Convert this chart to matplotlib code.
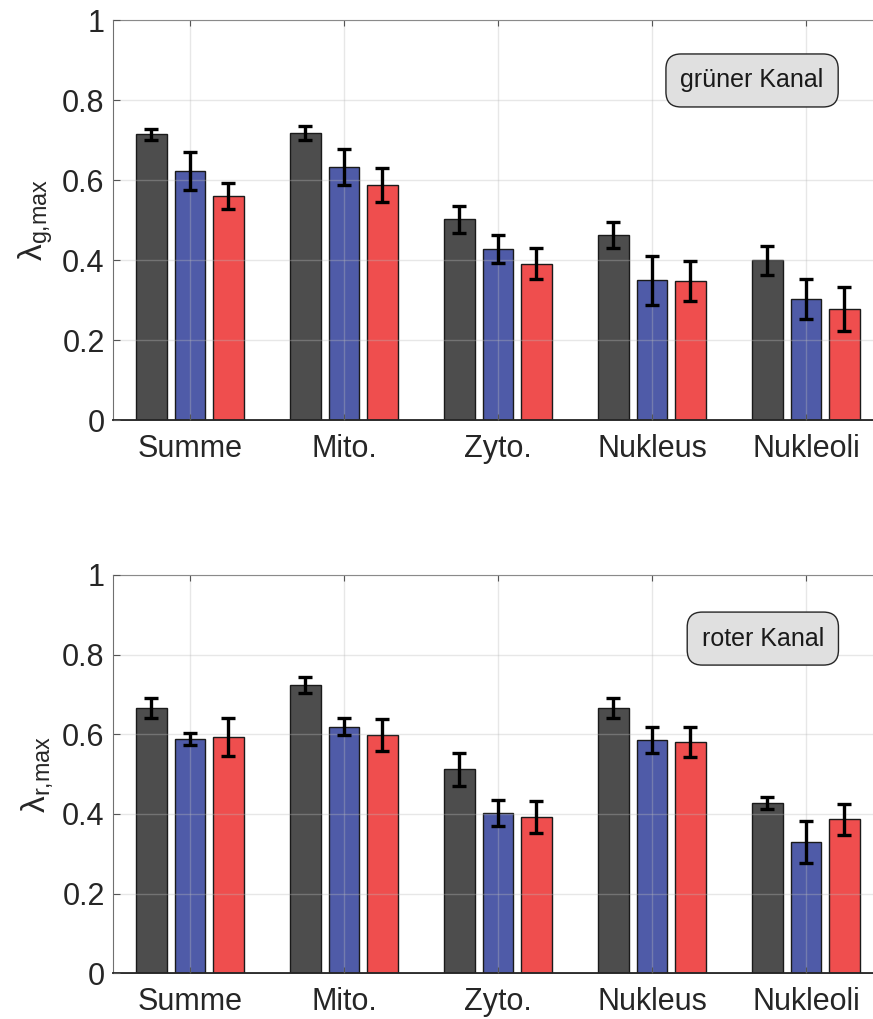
import numpy as np
import matplotlib
matplotlib.use("Agg")
import matplotlib.pyplot as plt

plt.rcParams["font.family"] = ["Liberation Sans", "DejaVu Sans"]
plt.rcParams["mathtext.fontset"] = "custom"
plt.rcParams["mathtext.rm"] = "Liberation Sans"
plt.rcParams["mathtext.it"] = "Liberation Sans:italic"

kategorien = ["Summe", "Mito.", "Zyto.", "Nukleus", "Nukleoli"]

# gruener Kanal: Mittelwerte und Standardabweichungen je Messreihe
gruen_a = [0.714, 0.717, 0.502, 0.463, 0.399]
gruen_b = [0.623, 0.633, 0.427, 0.349, 0.302]
gruen_c = [0.560, 0.588, 0.391, 0.347, 0.277]
gruen_a_err = [0.013, 0.018, 0.034, 0.033, 0.037]
gruen_b_err = [0.048, 0.045, 0.035, 0.061, 0.050]
gruen_c_err = [0.032, 0.042, 0.038, 0.050, 0.055]

# roter Kanal
rot_a = [0.666, 0.723, 0.512, 0.665, 0.427]
rot_b = [0.588, 0.619, 0.403, 0.585, 0.330]
rot_c = [0.593, 0.597, 0.392, 0.580, 0.387]
rot_a_err = [0.025, 0.020, 0.042, 0.025, 0.015]
rot_b_err = [0.015, 0.022, 0.033, 0.033, 0.052]
rot_c_err = [0.048, 0.040, 0.040, 0.037, 0.039]

farben = ["#4d4d4d", "#4f5ba8", "#ef4e4e"]
textfarbe = "#262626"


def balkenplot(ax, werte, fehler, kanal, ylabel, boxpos):
    x = np.arange(1, len(kategorien) + 1)
    for i, (w, f) in enumerate(zip(werte, fehler)):
        pos = x + (i - 1) * 0.25
        ax.bar(pos, w, width=0.2, color=farben[i], edgecolor="#1a1a1a", linewidth=1.0, zorder=1)
        ax.errorbar(pos, w, yerr=f, fmt="none", ecolor="black", elinewidth=2.4,
                    capsize=5, capthick=2.4, zorder=3)

    ax.set_xlim(0.5, 5.5)
    ax.set_ylim(0, 1)
    ax.set_xticks(x)
    ax.set_xticklabels(kategorien)
    ax.set_yticks([0, 0.2, 0.4, 0.6, 0.8, 1])
    ax.set_yticklabels(["0", "0.2", "0.4", "0.6", "0.8", "1"])

    # Gitter ueber den Balken
    ax.set_axisbelow(False)
    ax.grid(True, color="#bbbbbb", alpha=0.35, linewidth=1.0, zorder=2)

    ax.tick_params(axis="both", direction="in", length=5, labelsize=22, colors=textfarbe,
                   top=True, right=False)
    ax.tick_params(axis="x", pad=10, length=4, color="#555555")
    ax.tick_params(axis="y", pad=6, color="#555555")
    for lab in ax.get_xticklabels() + ax.get_yticklabels():
        lab.set_color(textfarbe)

    ax.spines["right"].set_visible(False)
    ax.spines["top"].set_color("#707070")
    ax.spines["left"].set_color("#707070")
    ax.spines["bottom"].set_color("#1a1a1a")
    ax.spines["bottom"].set_linewidth(1.3)

    ax.set_ylabel(ylabel, fontsize=24, color=textfarbe, labelpad=5)

    ax.text(boxpos[0], boxpos[1], kanal, transform=ax.transAxes, ha="center", va="center",
            fontsize=18, color="#1a1a1a", zorder=5,
            bbox=dict(boxstyle="round,pad=0.58,rounding_size=0.6", fc="#e0e0e0",
                      ec="#262626", lw=1.0))


fig = plt.figure(figsize=(8.73, 10.19), dpi=100)
ax1 = fig.add_axes([0.1294, 0.5878, 0.882, 0.3925])
ax2 = fig.add_axes([0.1294, 0.0448, 0.882, 0.3911])

balkenplot(ax1, [gruen_a, gruen_b, gruen_c], [gruen_a_err, gruen_b_err, gruen_c_err],
           "grüner Kanal", r"$\mathrm{\lambda}_{\mathrm{g{,}max}}$", (0.830, 0.849))
balkenplot(ax2, [rot_a, rot_b, rot_c], [rot_a_err, rot_b_err, rot_c_err],
           "roter Kanal", r"$\mathrm{\lambda}_{\mathrm{r{,}max}}$", (0.844, 0.840))

fig.savefig("out.png", dpi=100)
